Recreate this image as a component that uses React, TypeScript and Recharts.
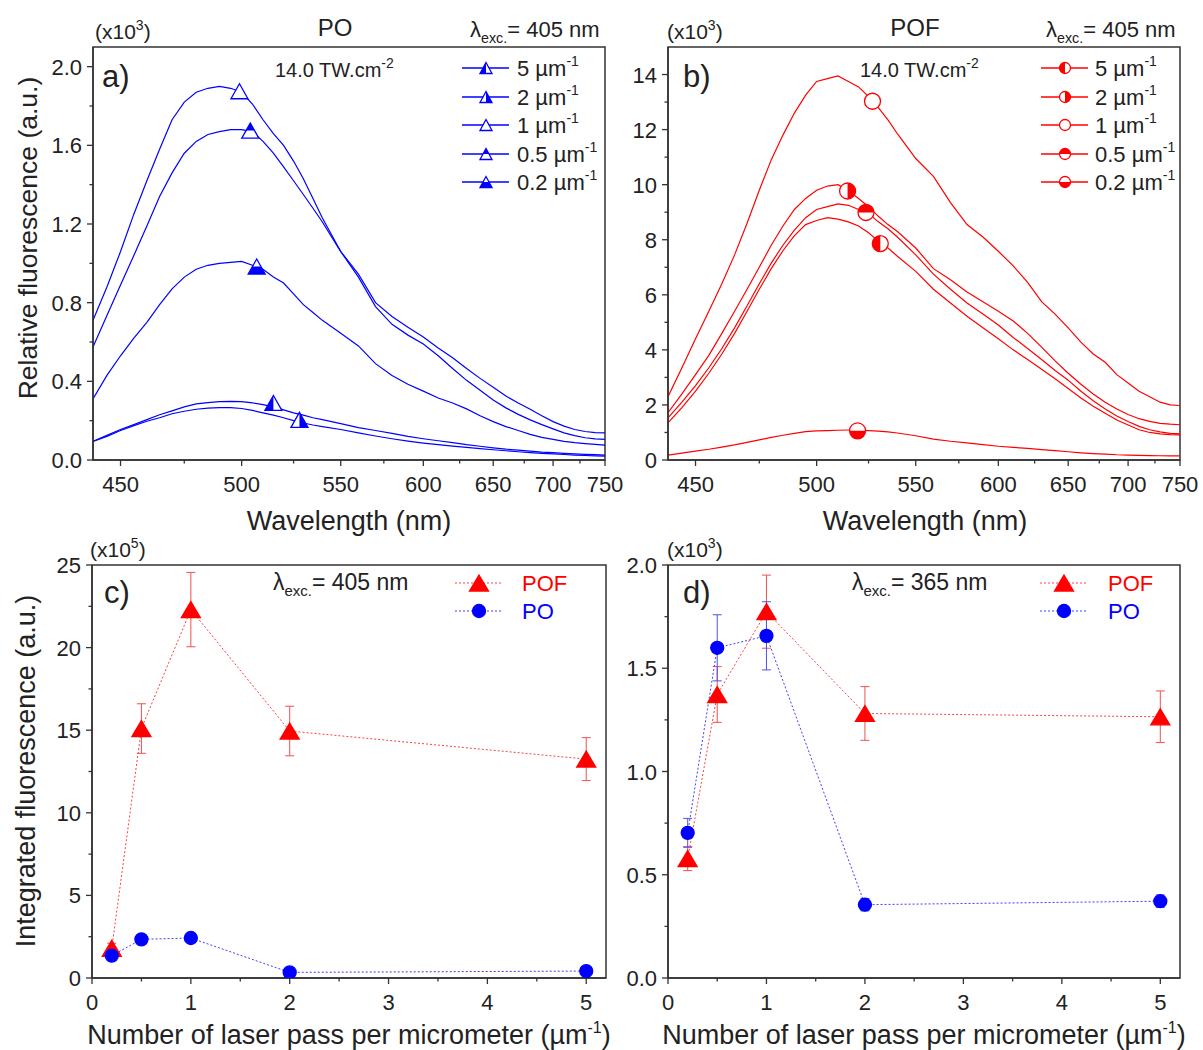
import React from "react";
import { ComposedChart, Line, Scatter, XAxis, YAxis, ReferenceArea, ErrorBar } from "recharts";

// emission spectra, wavelength (nm), intensities x10^3
const WL = [440, 445, 450, 455, 460, 465, 470, 475, 480, 485, 490, 495, 500, 505, 510, 515, 520, 525, 530, 535, 540,
	550, 560, 570, 580, 590, 600, 610, 620, 630, 640, 650, 660, 670, 680, 690, 700, 710, 720, 730, 740, 750];

// PO, series order: 5, 2, 1, 0.5, 0.2 pass/µm
const PO_5 = [0.095, 0.125, 0.155, 0.18, 0.205, 0.23, 0.25, 0.27, 0.285, 0.292, 0.297, 0.298, 0.297, 0.29, 0.282, 0.27, 0.255, 0.24, 0.228, 0.215, 0.205,
	0.185, 0.165, 0.15, 0.135, 0.12, 0.108, 0.098, 0.088, 0.078, 0.07, 0.062, 0.055, 0.05, 0.045, 0.04, 0.037, 0.034, 0.031, 0.029, 0.027, 0.025];
const PO_2 = [0.095, 0.12, 0.15, 0.175, 0.197, 0.215, 0.235, 0.248, 0.258, 0.264, 0.266, 0.266, 0.262, 0.252, 0.24, 0.228, 0.215, 0.2, 0.188, 0.178, 0.17,
	0.155, 0.138, 0.122, 0.108, 0.096, 0.086, 0.078, 0.071, 0.064, 0.058, 0.052, 0.047, 0.042, 0.038, 0.034, 0.031, 0.028, 0.025, 0.023, 0.021, 0.02];
const PO_1 = [0.71, 0.88, 1.06, 1.25, 1.42, 1.58, 1.73, 1.82, 1.87, 1.89, 1.9, 1.89, 1.87, 1.81, 1.73, 1.66, 1.6, 1.52, 1.43, 1.33, 1.23,
	1.06, 0.93, 0.78, 0.69, 0.635, 0.59, 0.53, 0.465, 0.405, 0.355, 0.305, 0.265, 0.232, 0.204, 0.18, 0.158, 0.138, 0.124, 0.113, 0.107, 0.105];
const PO_05 = [0.575, 0.735, 0.89, 1.04, 1.19, 1.34, 1.46, 1.56, 1.62, 1.655, 1.67, 1.68, 1.68, 1.67, 1.62, 1.56, 1.49, 1.42, 1.35, 1.28, 1.21,
	1.06, 0.945, 0.8, 0.73, 0.675, 0.625, 0.57, 0.52, 0.465, 0.415, 0.37, 0.325, 0.29, 0.258, 0.225, 0.195, 0.172, 0.155, 0.145, 0.139, 0.138];
const PO_02 = [0.31, 0.43, 0.53, 0.62, 0.7, 0.79, 0.87, 0.93, 0.97, 0.99, 1.0, 1.005, 1.01, 0.99, 0.97, 0.93, 0.9, 0.845, 0.79, 0.75, 0.71,
	0.645, 0.58, 0.49, 0.43, 0.385, 0.35, 0.315, 0.29, 0.26, 0.225, 0.195, 0.17, 0.15, 0.13, 0.115, 0.105, 0.095, 0.088, 0.083, 0.079, 0.076];

// POF
const POF_5 = [1.35, 1.9, 2.5, 3.15, 3.85, 4.6, 5.4, 6.2, 6.95, 7.6, 8.15, 8.55, 8.7, 8.8, 8.75, 8.65, 8.5, 8.25, 7.95, 7.7, 7.4,
	6.85, 6.2, 5.7, 5.22, 4.8, 4.4, 4.0, 3.65, 3.3, 2.95, 2.6, 2.25, 1.95, 1.7, 1.45, 1.27, 1.1, 1.0, 0.95, 0.92, 0.91];
const POF_2 = [1.72, 2.4, 3.1, 3.8, 4.6, 5.4, 6.2, 7.0, 7.8, 8.5, 9.1, 9.5, 9.8, 9.95, 10.0, 9.78, 9.5, 9.2, 8.85, 8.55, 8.3,
	7.7, 6.95, 6.55, 6.1, 5.75, 5.4, 5.05, 4.6, 4.1, 3.6, 3.15, 2.75, 2.4, 2.1, 1.85, 1.65, 1.5, 1.4, 1.33, 1.3, 1.28];
const POF_1 = [2.3, 3.35, 4.4, 5.4, 6.4, 7.45, 8.6, 9.8, 10.9, 11.8, 12.6, 13.25, 13.75, 13.85, 13.95, 13.75, 13.55, 13.2, 12.8, 12.35, 11.85,
	10.95, 10.3, 9.35, 8.55, 8.1, 7.58, 7.05, 6.45, 5.75, 5.3, 4.8, 4.28, 3.85, 3.55, 3.1, 2.8, 2.5, 2.3, 2.1, 2.0, 1.98];
const POF_05 = [1.53, 2.1, 2.7, 3.35, 4.05, 4.8, 5.6, 6.4, 7.15, 7.8, 8.35, 8.8, 9.1, 9.2, 9.3, 9.25, 9.1, 8.95, 8.65, 8.4, 8.1,
	7.45, 6.75, 6.2, 5.7, 5.3, 4.9, 4.45, 4.05, 3.65, 3.25, 2.9, 2.5, 2.15, 1.85, 1.6, 1.4, 1.22, 1.1, 1.02, 0.97, 0.95];
const POF_02 = [0.18, 0.25, 0.32, 0.39, 0.47, 0.55, 0.64, 0.73, 0.82, 0.9, 0.97, 1.03, 1.06, 1.07, 1.08, 1.09, 1.09, 1.07, 1.05, 1.02, 0.98,
	0.88, 0.76, 0.68, 0.62, 0.56, 0.5, 0.46, 0.42, 0.38, 0.34, 0.3, 0.26, 0.23, 0.21, 0.19, 0.18, 0.17, 0.16, 0.155, 0.15, 0.15];

const SERIES_LABELS = ["5", "2", "1", "0.5", "0.2"];
const HALVES = ["left", "right", "none", "top", "bottom"];
// single marker per curve (wavelength, value)
const PO_MARK_WL = [515, 528, 499, 504, 507];
const PO_MARK_VAL = [0.29, 0.204, 1.875, 1.675, 0.984];
const POF_MARK_WL = [531, 514.6, 527, 523.7, 519.5];
const POF_MARK_VAL = [7.86, 9.77, 13.03, 8.99, 1.06];

const WL_TICKS = [450, 475, 500, 525, 550, 575, 600, 625, 650, 675, 700, 725, 750];
const PO_Y_TICKS = [0, 0.2, 0.4, 0.6, 0.8, 1.0, 1.2, 1.4, 1.6, 1.8, 2.0];
const POF_Y_TICKS = [0, 1, 2, 3, 4, 5, 6, 7, 8, 9, 10, 11, 12, 13, 14];

// integrated fluorescence vs passes per µm
const PASS = [0.2, 0.5, 1, 2, 5];
const C_POF = [1.8, 15.1, 22.3, 14.95, 13.25]; // x10^5
const C_POF_ERR = [0.3, 1.5, 2.25, 1.5, 1.3];
const C_PO = [1.35, 2.34, 2.42, 0.34, 0.42];
const C_PO_ERR = [0.1, 0.1, 0.1, 0.1, 0.1];
const D_POF = [0.578, 1.373, 1.774, 1.281, 1.265]; // x10^3
const D_POF_ERR = [0.058, 0.135, 0.177, 0.13, 0.125];
const D_PO = [0.703, 1.599, 1.657, 0.355, 0.372];
const D_PO_ERR = [0.07, 0.16, 0.165, 0.03, 0.03];
const PASS_TICKS = [0, 0.5, 1, 1.5, 2, 2.5, 3, 3.5, 4, 4.5, 5];
const C_Y_TICKS = [0, 2.5, 5, 7.5, 10, 12.5, 15, 17.5, 20, 22.5, 25];
const D_Y_TICKS = [0, 0.25, 0.5, 0.75, 1.0, 1.25, 1.5, 1.75, 2.0];

const FONT = "'Liberation Sans', Arial, sans-serif";
const AXIS = "#333";
const LABEL = "#222";
const BLUE = "#0000ff";
const RED = "#ff0000";

const inv = (nm: number) => 1000 / nm;
const near = (a: number, b: number) => Math.abs(a - b) < 1e-6;

function TriMark({ cx, cy, w, h, color, half }: any) {
	const top = cy - h / 2, bot = cy + h / 2, l = cx - w / 2, r = cx + w / 2;
	let part: string | null = null;
	if (half === "left") part = `M${cx},${top} L${cx},${bot} L${l},${bot} Z`;
	if (half === "right") part = `M${cx},${top} L${r},${bot} L${cx},${bot} Z`;
	if (half === "top") part = `M${cx},${top} L${cx + w / 4},${cy} L${cx - w / 4},${cy} Z`;
	if (half === "bottom") part = `M${cx - w / 4},${cy} L${cx + w / 4},${cy} L${r},${bot} L${l},${bot} Z`;
	if (half === "full") part = `M${cx},${top} L${r},${bot} L${l},${bot} Z`;
	return (
		<g>
			<path d={`M${cx},${top} L${r},${bot} L${l},${bot} Z`} fill="#fff" stroke={color} strokeWidth={1.3} />
			{part && <path d={part} fill={color} />}
		</g>
	);
}

function CircMark({ cx, cy, r, color, half }: any) {
	let part: string | null = null;
	if (half === "left") part = `M${cx},${cy - r} A${r},${r} 0 0 0 ${cx},${cy + r} Z`;
	if (half === "right") part = `M${cx},${cy - r} A${r},${r} 0 0 1 ${cx},${cy + r} Z`;
	if (half === "top") part = `M${cx - r},${cy} A${r},${r} 0 0 1 ${cx + r},${cy} Z`;
	if (half === "bottom") part = `M${cx - r},${cy} A${r},${r} 0 0 0 ${cx + r},${cy} Z`;
	return (
		<g>
			<circle cx={cx} cy={cy} r={r} fill={half === "full" ? color : "#fff"} stroke={color} strokeWidth={1.3} />
			{part && <path d={part} fill={color} />}
		</g>
	);
}

function XTick({ x, y, payload, isMajor, fmt }: any) {
	const major = isMajor(payload.value);
	return (
		<g>
			<line x1={x} x2={x} y1={y} y2={y + (major ? 6 : 3.5)} stroke={AXIS} strokeWidth={1.3} />
			{major && (
				<text x={x} y={y + 32} textAnchor="middle" fontSize={22} fill={LABEL}>
					{fmt(payload.value)}
				</text>
			)}
		</g>
	);
}

function YTick({ x, y, payload, isMajor, fmt }: any) {
	const major = isMajor(payload.value);
	return (
		<g>
			<line x1={x} x2={x - (major ? 6 : 3.5)} y1={y} y2={y} stroke={AXIS} strokeWidth={1.3} />
			{major && (
				<text x={x - 11} y={y + 8} textAnchor="end" fontSize={22} fill={LABEL}>
					{fmt(payload.value)}
				</text>
			)}
		</g>
	);
}

function SpectrumPanel({ left, width, yAxisWidth, marginRight, series, color, yMax, yTicks, yMajor, yFmt, markWl, markVal, kind }: any) {
	const rows = WL.map((wl, i) => {
		const r: any = { u: inv(wl) };
		series.forEach((s: number[], k: number) => (r["s" + k] = s[i]));
		return r;
	});
	const uMin = inv(750);
	const uMax = inv(440);
	const marker = (cx: number, cy: number, half: string) =>
		kind === "tri" ? <TriMark cx={cx} cy={cy} w={17} h={15} color={color} half={half} /> : <CircMark cx={cx} cy={cy} r={8} color={color} half={half} />;
	return (
		<div style={{ position: "absolute", left, top: 0 }}>
			<ComposedChart width={width} height={540} data={rows} margin={{ top: 47, right: marginRight, bottom: 50, left: 0 }}>
				<XAxis
					dataKey="u"
					type="number"
					domain={[uMin, uMax]}
					reversed
					allowDataOverflow
					ticks={WL_TICKS.map(inv)}
					interval={0}
					height={30}
					tickSize={0}
					tickMargin={0}
					tickLine={false}
					axisLine={{ stroke: AXIS, strokeWidth: 1.5 }}
					tick={(p: any) => (
						<XTick {...p} isMajor={(v: number) => Math.round(1000 / v) % 50 === 0} fmt={(v: number) => Math.round(1000 / v)} />
					)}
				/>
				<YAxis
					type="number"
					domain={[0, yMax]}
					allowDataOverflow
					ticks={yTicks}
					interval={0}
					width={yAxisWidth}
					tickSize={0}
					tickMargin={0}
					tickLine={false}
					axisLine={{ stroke: AXIS, strokeWidth: 1.5 }}
					tick={(p: any) => <YTick {...p} isMajor={(v: number) => yMajor.some((m: number) => near(m, v))} fmt={yFmt} />}
				/>
				<ReferenceArea x1={uMin} x2={uMax} y1={0} y2={yMax} fill="none" stroke={AXIS} strokeWidth={1.5} ifOverflow="visible" />
				{series.map((_: number[], k: number) => (
					<Line key={"l" + k} type="linear" dataKey={"s" + k} stroke={color} strokeWidth={1.2} dot={false} isAnimationActive={false} />
				))}
				{series.map((_: number[], k: number) => (
					<Scatter
						key={"m" + k}
						data={[{ u: inv(markWl[k]), v: markVal[k] }]}
						dataKey="v"
						isAnimationActive={false}
						shape={(p: any) => marker(p.cx, p.cy, HALVES[k])}
					/>
				))}
			</ComposedChart>
		</div>
	);
}

function PassPanel({ left, width, yAxisWidth, marginRight, yMax, yTicks, yMajor, yFmt, pof, pofErr, po, poErr }: any) {
	const rows = PASS.map((n, i) => ({ n, pof: pof[i], pofErr: pofErr[i], po: po[i], poErr: poErr[i] }));
	return (
		<div style={{ position: "absolute", left, top: 540 }}>
			<ComposedChart width={width} height={510} data={rows} margin={{ top: 25, right: marginRight, bottom: 42, left: 0 }}>
				<XAxis
					dataKey="n"
					type="number"
					domain={[0, 5.2]}
					allowDataOverflow
					ticks={PASS_TICKS}
					interval={0}
					height={30}
					tickSize={0}
					tickMargin={0}
					tickLine={false}
					axisLine={{ stroke: AXIS, strokeWidth: 1.5 }}
					tick={(p: any) => <XTick {...p} isMajor={(v: number) => Number.isInteger(v)} fmt={(v: number) => v} />}
				/>
				<YAxis
					type="number"
					domain={[0, yMax]}
					allowDataOverflow
					ticks={yTicks}
					interval={0}
					width={yAxisWidth}
					tickSize={0}
					tickMargin={0}
					tickLine={false}
					axisLine={{ stroke: AXIS, strokeWidth: 1.5 }}
					tick={(p: any) => <YTick {...p} isMajor={(v: number) => yMajor.some((m: number) => near(m, v))} fmt={yFmt} />}
				/>
				<ReferenceArea x1={0} x2={5.2} y1={0} y2={yMax} fill="none" stroke={AXIS} strokeWidth={1.5} ifOverflow="visible" />
				<Line
					type="linear"
					dataKey="pof"
					stroke="#ff4040"
					strokeWidth={1}
					strokeDasharray="2 2"
					isAnimationActive={false}
					dot={(p: any) => <TriMark key={"t" + p.index} cx={p.cx} cy={p.cy} w={19} h={16} color={RED} half="full" />}
				>
					<ErrorBar dataKey="pofErr" width={4.5} stroke="#f05050" strokeWidth={1} direction="y" />
				</Line>
				<Line
					type="linear"
					dataKey="po"
					stroke="#4040ff"
					strokeWidth={1}
					strokeDasharray="2 2"
					isAnimationActive={false}
					dot={(p: any) => <CircMark key={"c" + p.index} cx={p.cx} cy={p.cy} r={6.5} color={BLUE} half="full" />}
				>
					<ErrorBar dataKey="poErr" width={4.5} stroke="#5050f0" strokeWidth={1} direction="y" />
				</Line>
			</ComposedChart>
		</div>
	);
}

function Exc({ x, y, nm, size = 22 }: any) {
	return (
		<text x={x} y={y} fontSize={size} fill={LABEL}>
			λ<tspan fontSize={size * 0.65} dy={6}>exc.</tspan>
			<tspan dy={-6}>= {nm} nm</tspan>
		</text>
	);
}

function Scale({ x, y, exp }: any) {
	return (
		<text x={x} y={y} fontSize={21} fill={LABEL}>
			(x10<tspan fontSize={14} dy={-9}>{exp}</tspan>
			<tspan dy={9}>)</tspan>
		</text>
	);
}

function Power({ x, y }: any) {
	return (
		<text x={x} y={y} fontSize={20} fill={LABEL}>
			14.0 TW.cm<tspan fontSize={14} dy={-9}>-2</tspan>
		</text>
	);
}

function SpecLegend({ x0, xm, xt, color, kind }: any) {
	const rowsY = [68, 97, 125, 154, 182];
	return (
		<g>
			{SERIES_LABELS.map((lab, k) => (
				<g key={k}>
					<line x1={x0} x2={xm + 23} y1={rowsY[k]} y2={rowsY[k]} stroke={color} strokeWidth={1.5} />
					{kind === "tri" ? (
						<TriMark cx={xm} cy={rowsY[k]} w={12} h={11} color={color} half={HALVES[k]} />
					) : (
						<CircMark cx={xm} cy={rowsY[k]} r={5.5} color={color} half={HALVES[k]} />
					)}
					<text x={xt} y={rowsY[k] + 8} fontSize={22} fill={LABEL}>
						{lab} µm<tspan fontSize={14} dy={-10}>-1</tspan>
					</text>
				</g>
			))}
		</g>
	);
}

function PassLegend({ x0, xm, xt }: any) {
	return (
		<g>
			<line x1={x0} x2={x0 + 46} y1={583} y2={583} stroke="#ff4040" strokeDasharray="2 2" />
			<TriMark cx={xm} cy={583} w={19} h={16} color={RED} half="full" />
			<text x={xt} y={591} fontSize={22} fill={RED}>POF</text>
			<line x1={x0} x2={x0 + 46} y1={611} y2={611} stroke="#4040ff" strokeDasharray="2 2" />
			<CircMark cx={xm} cy={611} r={6.5} color={BLUE} half="full" />
			<text x={xt} y={619} fontSize={22} fill={BLUE}>PO</text>
		</g>
	);
}

export default function App() {
	return (
		<div style={{ position: "absolute", left: 0, top: 0, width: 1203, height: 1050, background: "#fff", fontFamily: FONT }}>
			<SpectrumPanel
				left={0}
				width={640}
				yAxisWidth={93}
				marginRight={35}
				series={[PO_5, PO_2, PO_1, PO_05, PO_02]}
				color={BLUE}
				yMax={2.1}
				yTicks={PO_Y_TICKS}
				yMajor={[0, 0.4, 0.8, 1.2, 1.6, 2.0]}
				yFmt={(v: number) => v.toFixed(1)}
				markWl={PO_MARK_WL}
				markVal={PO_MARK_VAL}
				kind="tri"
			/>
			<SpectrumPanel
				left={600}
				width={603}
				yAxisWidth={68}
				marginRight={23}
				series={[POF_5, POF_2, POF_1, POF_05, POF_02]}
				color={RED}
				yMax={15}
				yTicks={POF_Y_TICKS}
				yMajor={[0, 2, 4, 6, 8, 10, 12, 14]}
				yFmt={(v: number) => String(v)}
				markWl={POF_MARK_WL}
				markVal={POF_MARK_VAL}
				kind="circ"
			/>
			<PassPanel
				left={0}
				width={620}
				yAxisWidth={92}
				marginRight={14}
				yMax={25}
				yTicks={C_Y_TICKS}
				yMajor={[0, 5, 10, 15, 20, 25]}
				yFmt={(v: number) => String(v)}
				pof={C_POF}
				pofErr={C_POF_ERR}
				po={C_PO}
				poErr={C_PO_ERR}
			/>
			<PassPanel
				left={600}
				width={603}
				yAxisWidth={68}
				marginRight={23}
				yMax={2}
				yTicks={D_Y_TICKS}
				yMajor={[0, 0.5, 1.0, 1.5, 2.0]}
				yFmt={(v: number) => v.toFixed(1)}
				pof={D_POF}
				pofErr={D_POF_ERR}
				po={D_PO}
				poErr={D_PO_ERR}
			/>
			<svg width={1203} height={1050} style={{ position: "absolute", left: 0, top: 0, pointerEvents: "none", fontFamily: FONT }}>
				{/* panel a */}
				<Scale x={95} y={39} exp="3" />
				<text x={335} y={36} fontSize={24} textAnchor="middle" fill={LABEL}>PO</text>
				<Exc x={470} y={37} nm={405} />
				<text x={102} y={87} fontSize={31} fill={LABEL}>a)</text>
				<Power x={275} y={77} />
				<SpecLegend x0={462} xm={486} xt={517} color={BLUE} kind="tri" />
				<text x={28} y={238} fontSize={26.5} textAnchor="middle" dominantBaseline="central" transform="rotate(-90 28 238)" fill={LABEL}>
					Relative fluorescence (a.u.)
				</text>
				<text x={349} y={530} fontSize={27} textAnchor="middle" fill={LABEL}>Wavelength (nm)</text>

				{/* panel b */}
				<Scale x={667} y={39} exp="3" />
				<text x={915} y={36} fontSize={24} textAnchor="middle" fill={LABEL}>POF</text>
				<Exc x={1046} y={37} nm={405} />
				<text x={683} y={87} fontSize={31} fill={LABEL}>b)</text>
				<Power x={860} y={77} />
				<SpecLegend x0={1041} xm={1065} xt={1095} color={RED} kind="circ" />
				<text x={925} y={530} fontSize={27} textAnchor="middle" fill={LABEL}>Wavelength (nm)</text>

				{/* panel c */}
				<Scale x={90} y={557} exp="5" />
				<text x={104} y={603} fontSize={31} fill={LABEL}>c)</text>
				<Exc x={273} y={590} nm={405} size={23} />
				<PassLegend x0={455} xm={479} xt={522} />
				<text x={26} y={771} fontSize={27} textAnchor="middle" dominantBaseline="central" transform="rotate(-90 26 771)" fill={LABEL}>
					Integrated fluorescence (a.u.)
				</text>
				<text x={349} y={1044} fontSize={27} textAnchor="middle" fill={LABEL}>
					Number of laser pass per micrometer (µm<tspan fontSize={16} dy={-11}>-1</tspan>
					<tspan dy={11}>)</tspan>
				</text>

				{/* panel d */}
				<Scale x={667} y={557} exp="3" />
				<text x={683} y={603} fontSize={31} fill={LABEL}>d)</text>
				<Exc x={852} y={590} nm={365} size={23} />
				<PassLegend x0={1040} xm={1064} xt={1108} />
				<text x={924} y={1044} fontSize={27} textAnchor="middle" fill={LABEL}>
					Number of laser pass per micrometer (µm<tspan fontSize={16} dy={-11}>-1</tspan>
					<tspan dy={11}>)</tspan>
				</text>
			</svg>
		</div>
	);
}
